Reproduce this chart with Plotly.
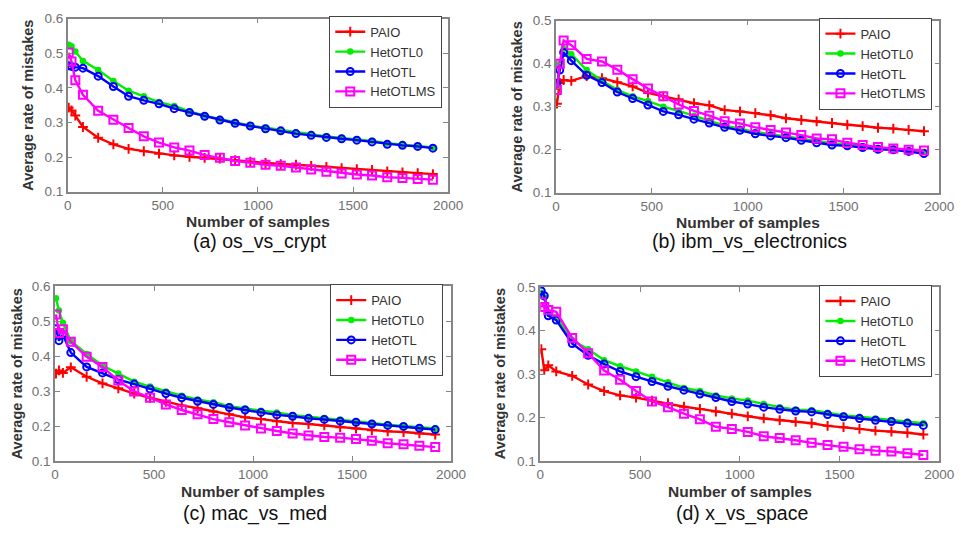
import plotly.graph_objects as go

# ---------------- data ----------------
samples = [5, 20, 40, 80, 160, 240, 320, 400, 480, 560, 640, 720, 800, 880, 960,
           1040, 1120, 1200, 1280, 1360, 1440, 1520, 1600, 1680, 1760, 1840, 1920]
methods = ["PAIO", "HetOTL0", "HetOTL", "HetOTLMS"]

A_PAIO = [0.343,0.335,0.32,0.287,0.256,0.237,0.224,0.217,0.21,0.205,0.201,0.198,0.196,0.191,0.187,0.183,0.18,0.178,0.175,0.172,0.168,0.165,0.163,0.159,0.156,0.154,0.151]
A_HetOTL0 = [0.525,0.52,0.505,0.478,0.452,0.42,0.392,0.376,0.359,0.348,0.332,0.32,0.31,0.30,0.291,0.285,0.278,0.271,0.266,0.26,0.256,0.252,0.247,0.24,0.236,0.233,0.228]
A_HetOTL = [0.464,0.462,0.46,0.457,0.434,0.404,0.376,0.364,0.354,0.34,0.329,0.318,0.307,0.298,0.29,0.282,0.276,0.268,0.263,0.257,0.253,0.249,0.244,0.237,0.234,0.231,0.226]
A_HetOTLMS = [0.502,0.476,0.422,0.38,0.334,0.308,0.284,0.26,0.242,0.228,0.219,0.206,0.198,0.189,0.184,0.178,0.175,0.17,0.164,0.158,0.153,0.15,0.147,0.142,0.14,0.137,0.135]

B_PAIO = [0.307,0.355,0.362,0.36,0.371,0.366,0.357,0.347,0.332,0.324,0.317,0.308,0.303,0.292,0.289,0.285,0.28,0.273,0.269,0.266,0.262,0.258,0.255,0.251,0.249,0.246,0.243]
B_HetOTL0 = [0.347,0.40,0.435,0.422,0.385,0.36,0.339,0.324,0.313,0.30,0.29,0.279,0.268,0.256,0.249,0.241,0.236,0.231,0.226,0.22,0.215,0.212,0.208,0.204,0.202,0.198,0.195]
B_HetOTL = [0.354,0.385,0.426,0.407,0.373,0.356,0.334,0.319,0.304,0.289,0.281,0.271,0.262,0.252,0.245,0.237,0.232,0.228,0.222,0.216,0.211,0.209,0.205,0.201,0.2,0.196,0.191]
B_HetOTLMS = [0.339,0.40,0.454,0.443,0.411,0.405,0.386,0.364,0.342,0.324,0.305,0.29,0.279,0.266,0.261,0.252,0.246,0.24,0.234,0.226,0.224,0.216,0.211,0.206,0.203,0.2,0.198]

C_PAIO = [0.35,0.359,0.352,0.368,0.341,0.322,0.308,0.293,0.281,0.269,0.259,0.251,0.242,0.234,0.225,0.22,0.214,0.209,0.206,0.202,0.197,0.193,0.188,0.185,0.183,0.179,0.176]
C_HetOTL0 = [0.565,0.53,0.495,0.443,0.406,0.373,0.35,0.327,0.313,0.299,0.287,0.276,0.268,0.257,0.25,0.244,0.239,0.231,0.227,0.223,0.219,0.213,0.209,0.204,0.2,0.197,0.193]
C_HetOTL = [0.478,0.444,0.461,0.41,0.369,0.352,0.333,0.32,0.306,0.293,0.281,0.271,0.262,0.253,0.246,0.239,0.232,0.228,0.222,0.219,0.214,0.211,0.206,0.202,0.199,0.194,0.19]
C_HetOTLMS = [0.519,0.466,0.477,0.441,0.398,0.369,0.33,0.299,0.281,0.262,0.246,0.234,0.22,0.211,0.202,0.193,0.186,0.179,0.173,0.169,0.167,0.163,0.158,0.151,0.148,0.144,0.14]

D_PAIO = [0.357,0.309,0.32,0.306,0.296,0.276,0.261,0.251,0.246,0.239,0.233,0.225,0.22,0.214,0.209,0.203,0.198,0.194,0.19,0.187,0.181,0.178,0.174,0.17,0.168,0.165,0.161]
D_HetOTL0 = [0.487,0.476,0.439,0.432,0.378,0.357,0.332,0.318,0.306,0.294,0.281,0.268,0.261,0.251,0.244,0.239,0.231,0.224,0.218,0.217,0.211,0.205,0.202,0.198,0.194,0.191,0.187]
D_HetOTL = [0.491,0.48,0.434,0.424,0.37,0.343,0.323,0.306,0.294,0.283,0.272,0.263,0.254,0.246,0.237,0.231,0.224,0.219,0.215,0.213,0.207,0.202,0.198,0.194,0.191,0.187,0.182]
D_HetOTLMS = [0.465,0.454,0.447,0.443,0.383,0.348,0.308,0.287,0.261,0.237,0.224,0.209,0.196,0.179,0.174,0.167,0.157,0.153,0.148,0.142,0.137,0.133,0.127,0.124,0.122,0.118,0.114]

captions = ["(a) os_vs_crypt", "(b) ibm_vs_electronics", "(c) mac_vs_med", "(d) x_vs_space"]
y_max = [0.6, 0.5, 0.6, 0.5]
x_label = "Number of samples"
y_label = "Average rate of mistakes"

panels = [
    [A_PAIO, A_HetOTL0, A_HetOTL, A_HetOTLMS],
    [B_PAIO, B_HetOTL0, B_HetOTL, B_HetOTLMS],
    [C_PAIO, C_HetOTL0, C_HetOTL, C_HetOTLMS],
    [D_PAIO, D_HetOTL0, D_HetOTL, D_HetOTLMS],
]

# ---------------- styling / layout ----------------
W, H = 970, 543
# plot boxes in pixels: (left, top, right, bottom)
boxes = [(65, 12, 453, 190), (563, 14, 954, 191), (52, 287, 456, 467), (547, 288, 954, 467)]
legend_pos = [(447, 9), (947, 11), (448, 285), (947, 286)]
ylab_x = [25, 523, 13, 506]
caption_y = [241, 241, 521, 521]

colors = ["#ff0000", "#00ee00", "#0000ff", "#ff00ff"]
markers = [
    dict(symbol="cross-thin-open", size=7, line=dict(width=2)),
    dict(symbol="circle", size=6.5, line=dict(width=0)),
    dict(symbol="circle-open", size=7, line=dict(width=2)),
    dict(symbol="square-open", size=8, line=dict(width=2)),
]
FONT = "Liberation Sans, Arial, sans-serif"
axis_col = "#858585"
tick_col = "#707070"

fig = go.Figure()
layout = dict(width=W, height=H, margin=dict(l=0, r=0, t=0, b=0),
              paper_bgcolor="white", plot_bgcolor="white",
              font=dict(family=FONT), showlegend=True)
annotations = []

for p in range(4):
    sfx = "" if p == 0 else str(p + 1)
    leg = "legend" if p == 0 else f"legend{p + 1}"
    for s in range(4):
        mk = dict(markers[s])
        mk["color"] = colors[s]
        mk["line"] = dict(mk["line"], color=colors[s])
        fig.add_trace(go.Scatter(
            x=samples, y=panels[p][s], name=methods[s], mode="lines+markers",
            line=dict(color=colors[s], width=2.4), marker=mk,
            xaxis="x" + sfx, yaxis="y" + sfx, legend=leg))
    l, t, r, b = boxes[p]
    dom_x = [l / W, r / W]
    dom_y = [1 - b / H, 1 - t / H]
    common = dict(showline=True, linecolor=axis_col, linewidth=1.5, mirror="ticks",
                  ticks="inside", ticklen=5, tickcolor=axis_col, showgrid=False,
                  zeroline=False, tickfont=dict(family=FONT, size=13.5, color=tick_col))
    layout["xaxis" + sfx] = dict(common, domain=dom_x, range=[0, 2000], dtick=500,
                                 anchor="y" + sfx)
    layout["yaxis" + sfx] = dict(common, domain=dom_y, range=[0.1, y_max[p]], dtick=0.1,
                                 tickformat=".1f", anchor="x" + sfx)
    lx, ly = legend_pos[p]
    layout[leg] = dict(x=lx / W, y=1 - ly / H, xanchor="right", yanchor="top",
                       bordercolor="#444444", borderwidth=1, bgcolor="white",
                       font=dict(family=FONT, size=13, color="#333333"),
                       tracegroupgap=0, itemwidth=30)
    cx = (l + r) / 2
    annotations.append(dict(text=f"<b>{x_label}</b>", x=cx / W, y=1 - (b + 31) / H,
                            xref="paper", yref="paper", showarrow=False,
                            xanchor="center", yanchor="middle",
                            font=dict(family=FONT, size=15.5, color="#333333")))
    annotations.append(dict(text=f"<b>{y_label}</b>", x=ylab_x[p] / W, y=1 - ((t + b) / 2) / H,
                            xref="paper", yref="paper", showarrow=False, textangle=-90,
                            xanchor="center", yanchor="middle",
                            font=dict(family=FONT, size=14.5, color="#333333")))
    annotations.append(dict(text=captions[p], x=(cx + 2) / W, y=1 - caption_y[p] / H,
                            xref="paper", yref="paper", showarrow=False,
                            xanchor="center", yanchor="middle",
                            font=dict(family=FONT, size=19.5, color="#111111")))

layout["annotations"] = annotations
fig.update_layout(**layout)
fig.write_html("out.html")
